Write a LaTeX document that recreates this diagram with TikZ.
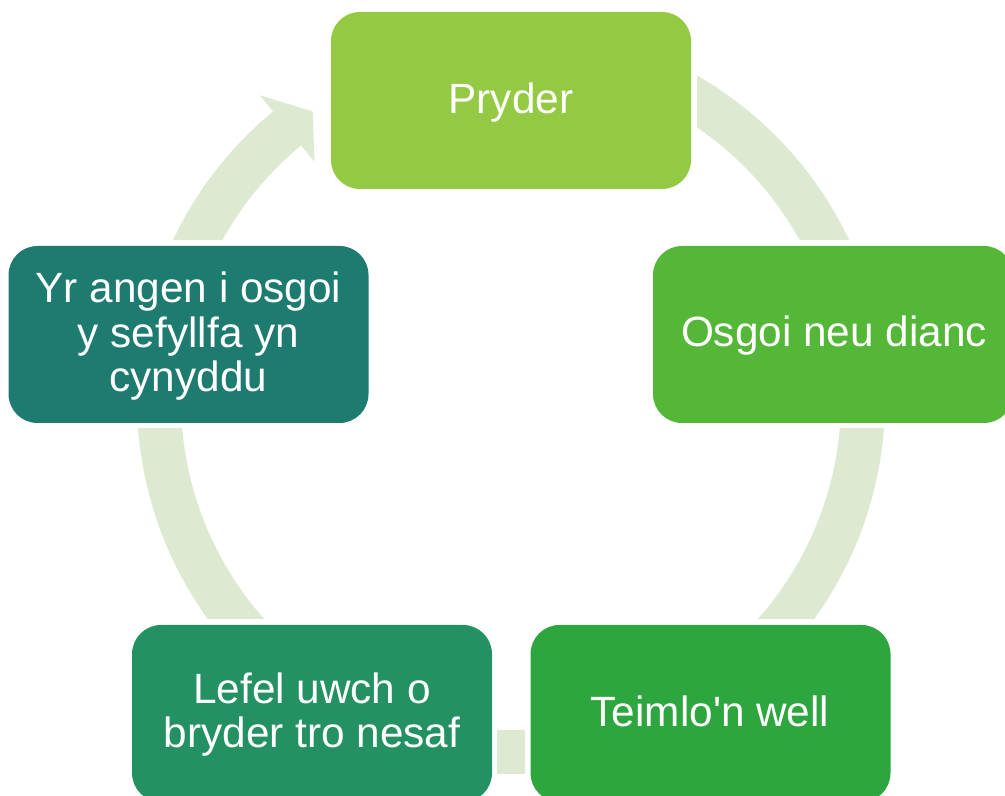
\documentclass[tikz,border=0pt]{standalone}
\usepackage{fontspec}
\setmainfont{Liberation Sans}[Ligatures=TeXOff]
\definecolor{cA}{HTML}{94C943}
\definecolor{cB}{HTML}{54B737}
\definecolor{cC}{HTML}{2EA640}
\definecolor{cD}{HTML}{239162}
\definecolor{cE}{HTML}{1E7B70}
\definecolor{bandc}{HTML}{DDEAD1}
\begin{document}
\begin{tikzpicture}[x=0.75pt,y=0.75pt,
  box/.style={rectangle, rounded corners=21.75pt, minimum width=270pt, minimum height=132.75pt, inner sep=0pt},
  lbl/.style={text=white, font=\fontsize{31.75pt}{33.4pt}\selectfont, align=center, inner sep=0pt, anchor=base},
  band/.style={fill=bandc}]
\useasboundingbox (0,0) rectangle (1005,795);
\fill[white] (0,0) rectangle (1005,795);
\clip (0,0) rectangle (1005,795);
\coordinate (C) at (511,395);
% segment 1
\begin{scope}
\clip (697,555) rectangle (1005,795);
\fill[band] ([shift={(75:374)}]C) arc[start angle=75,end angle=10,radius=374]
  -- ([shift={(10:330)}]C) arc[start angle=10,end angle=75,radius=330] -- cycle;
\end{scope}
% segment 2
\begin{scope}
\clip (511,176) rectangle (1005,366);
\fill[band] ([shift={(10:374)}]C) arc[start angle=10,end angle=-50,radius=374]
  -- ([shift={(-50:330)}]C) arc[start angle=-50,end angle=10,radius=330] -- cycle;
\end{scope}
% segment 3
\begin{scope}
\clip (497,0) rectangle (525,300);
\fill[band] ([shift={(-80:374)}]C) arc[start angle=-80,end angle=-100,radius=374]
  -- ([shift={(-100:330)}]C) arc[start angle=-100,end angle=-80,radius=330] -- cycle;
\end{scope}
% segment 4
\begin{scope}
\clip (0,176) rectangle (511,366);
\fill[band] ([shift={(230:374)}]C) arc[start angle=230,end angle=170,radius=374]
  -- ([shift={(170:330)}]C) arc[start angle=170,end angle=230,radius=330] -- cycle;
\end{scope}
% segment 5 with arrow head
\begin{scope}
\clip (0,555) rectangle (511,795);
\fill[band] ([shift={(175:374)}]C) arc[start angle=175,end angle=129.5,radius=374]
  -- ([shift={(129.5:395)}]C) -- ([shift={(124.5:350)}]C) -- ([shift={(129.5:309)}]C)
  -- ([shift={(129.5:330)}]C) arc[start angle=129.5,end angle=175,radius=330] -- cycle;
\end{scope}
% boxes
\node[box, fill=cA] (b1) at (511,694.5) {};
\node[box, fill=cB] (b2) at (833,460.5) {};
\node[box, fill=cC] (b3) at (710.5,81.5) {};
\node[box, fill=cD] (b4) at (312,81.5) {};
\node[box, fill=cE] (b5) at (188.5,460.5) {};
% labels (base = baseline of last line)
\node[lbl] (t1) at (511,681) {Pryder};
\node[lbl] (t2) at (834,448) {Osgoi neu dianc};
\node[lbl] (t3) at (710,69) {Teimlo'n well};
\node[lbl] (t4) at (312,47) {Lefel uwch o\\bryder tro nesaf};
\node[lbl] (t5) at (188.5,403) {Yr angen i osgoi\\y sefyllfa yn\\cynyddu};
\end{tikzpicture}
\end{document}
